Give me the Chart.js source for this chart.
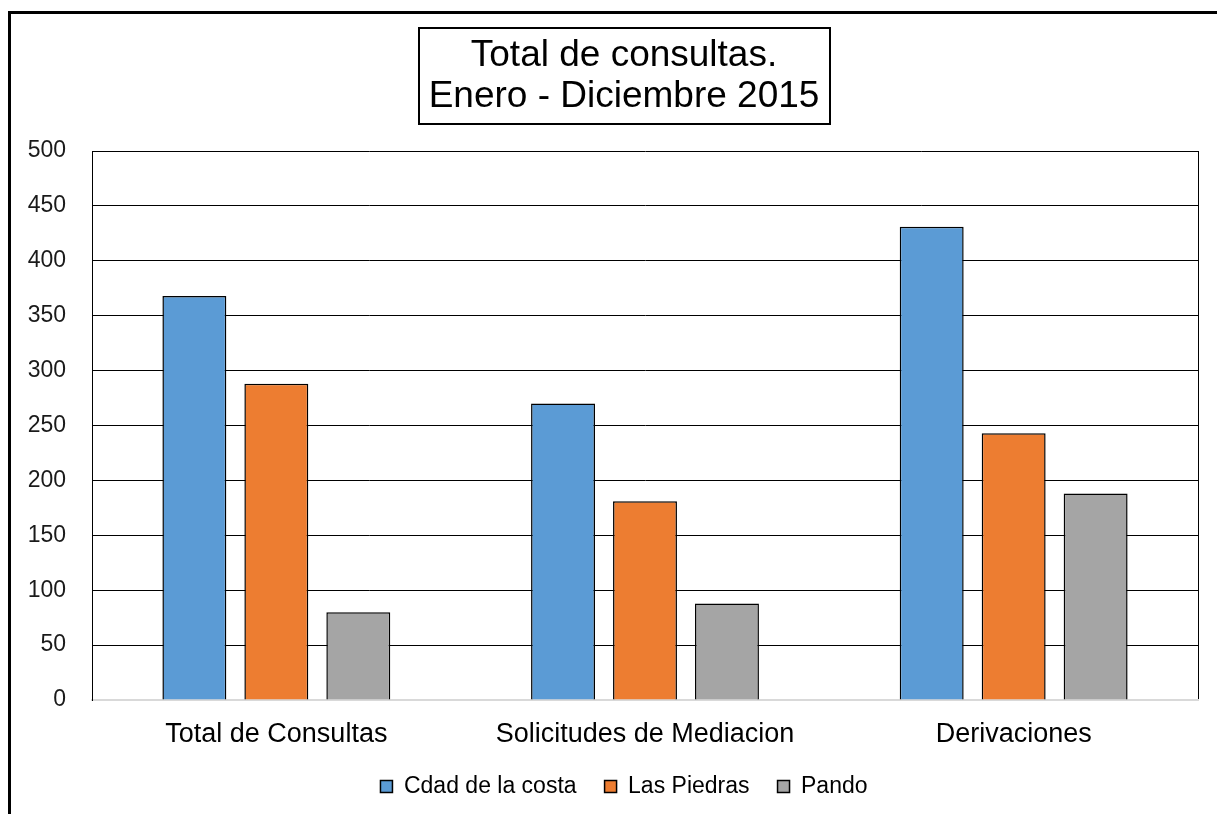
<!DOCTYPE html>
<html>
<head>
<meta charset="utf-8">
<title>Total de consultas. Enero - Diciembre 2015</title>
<script src="https://cdn.jsdelivr.net/npm/chart.js@4.4.0/dist/chart.umd.min.js"></script>
<style>
    html, body { margin: 0; padding: 0; background: #ffffff; }
    #wrap { width: 1217px; height: 814px; }
</style>
</head>
<body>
<div id="wrap"><canvas id="consultasChart" width="1217" height="814"></canvas></div>
<script>
// Chart data
const categories = ['Total de Consultas', 'Solicitudes de Mediacion', 'Derivaciones'];
const seriesNames = ['Cdad de la costa', 'Las Piedras', 'Pando'];
const cdadCosta = [368, 270, 431];
const lasPiedras = [288, 181, 243];
const pando = [80, 88, 188];
const titleLines = ['Total de consultas.', 'Enero - Diciembre 2015'];
const yTicks = { min: 0, max: 500, step: 50 };

const FONT = "'Liberation Sans', Arial, sans-serif";
const seriesColors = ['#5B9BD5', '#ED7D31', '#A5A5A5'];

// The y labels sit left of the (narrow) axis box, so they are drawn mirrored
// with a negative padding to escape the scale's label clip.
const measureCtx = document.createElement('canvas').getContext('2d');
measureCtx.font = '23px ' + FONT;
const widestYLabel = measureCtx.measureText(String(yTicks.max)).width;

// White background plus the cropped outer frame of the original sheet
const framePlugin = {
    id: 'frame',
    beforeDraw(chart) {
        const ctx = chart.ctx;
        ctx.save();
        ctx.fillStyle = '#ffffff';
        ctx.fillRect(0, 0, chart.width, chart.height);
        ctx.strokeStyle = '#000000';
        ctx.lineWidth = 3;
        ctx.beginPath();
        ctx.moveTo(9.5, chart.height + 5);
        ctx.lineTo(9.5, 12.5);
        ctx.lineTo(chart.width + 5, 12.5);
        ctx.stroke();
        ctx.restore();
    },
    afterDraw(chart) {
        const ctx = chart.ctx;
        const area = chart.chartArea;
        ctx.save();

        // right edge of the plot box
        ctx.strokeStyle = '#000000';
        ctx.lineWidth = 1;
        ctx.beginPath();
        ctx.moveTo(Math.round(area.right) + 0.5, area.top);
        ctx.lineTo(Math.round(area.right) + 0.5, area.bottom - 1);
        ctx.stroke();

        // box around the title
        const tb = chart.titleBlock;
        const opts = tb.options;
        ctx.font = '37px ' + FONT;
        const textW = Math.max(...titleLines.map(t => ctx.measureText(t).width));
        const cx = (tb.left + tb.right) / 2;
        const lh = 41;
        const top = tb.top + opts.padding.top - 7;
        const h = lh * titleLines.length + 14;
        ctx.lineWidth = 2;
        ctx.strokeRect(Math.round(cx - textW / 2 - 10), Math.round(top), Math.round(textW + 20), Math.round(h));
        ctx.restore();
    }
};

const datasets = [cdadCosta, lasPiedras, pando].map((values, i) => ({
    label: seriesNames[i],
    data: values,
    backgroundColor: seriesColors[i],
    borderColor: '#000000',
    borderWidth: 1.5,
    categoryPercentage: 0.667,
    barPercentage: 0.78
}));

new Chart(document.getElementById('consultasChart'), {
    type: 'bar',
    data: {
        labels: categories,
        datasets: datasets
    },
    options: {
        responsive: false,
        animation: false,
        layout: {
            padding: { top: 0, left: 50, right: 19, bottom: 6 }
        },
        plugins: {
            title: {
                display: true,
                text: titleLines,
                color: '#000000',
                font: { family: FONT, size: 37, weight: 'normal', lineHeight: 41 / 37 },
                padding: { top: 35, bottom: 34 }
            },
            legend: {
                position: 'bottom',
                labels: {
                    color: '#000000',
                    font: { family: FONT, size: 23 },
                    boxWidth: 12,
                    boxHeight: 12,
                    padding: 28
                }
            },
            tooltip: { enabled: false }
        },
        scales: {
            x: {
                afterFit(scale) { scale.height = 47; },
                grid: { display: false, drawTicks: false },
                border: { display: true, color: '#d9d9d9', width: 2 },
                ticks: {
                    color: '#000000',
                    font: { family: FONT, size: 27 },
                    padding: 18,
                    maxRotation: 0
                }
            },
            y: {
                min: yTicks.min,
                max: yTicks.max,
                afterFit(scale) { scale.width = 42; },
                grid: {
                    color: ctx => (ctx.tick && ctx.tick.value === 0 ? 'rgba(0,0,0,0)' : '#000000'),
                    lineWidth: 1,
                    drawTicks: false
                },
                border: { display: true, color: '#000000', width: 1 },
                ticks: {
                    stepSize: yTicks.step,
                    color: '#1a1a1a',
                    font: { family: FONT, size: 23 },
                    mirror: true,
                    crossAlign: 'far',
                    padding: -(26 + widestYLabel)
                }
            }
        }
    },
    plugins: [framePlugin]
});
</script>
</body>
</html>
